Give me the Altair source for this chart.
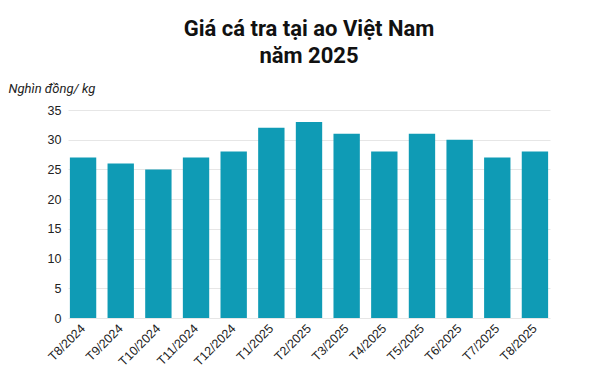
import altair as alt
import pandas as pd

months = ["T8/2024", "T9/2024", "T10/2024", "T11/2024", "T12/2024", "T1/2025", "T2/2025",
          "T3/2025", "T4/2025", "T5/2025", "T6/2025", "T7/2025", "T8/2025"]
prices = [27, 26, 25, 27, 28, 32, 33, 31, 28, 31, 30, 27, 28]
y_ticks = [0, 5, 10, 15, 20, 25, 30, 35]

df = pd.DataFrame({"month": months, "price": prices})

chart = alt.Chart(df).mark_bar(color="#0f9bb5").encode(
    x=alt.X("month:N", sort=months,
            scale=alt.Scale(paddingInner=0.3, paddingOuter=0.05),
            axis=alt.Axis(title=None, labelAngle=-45, labelAlign="right", labelBaseline="middle",
                          labelFont="Liberation Sans", labelFontSize=12.5, labelColor="#222",
                          ticks=False, domain=False, labelPadding=8)),
    y=alt.Y("price:Q", scale=alt.Scale(domain=[0, 35], nice=False),
            axis=alt.Axis(values=y_ticks, title="Nghìn đồng/ kg", titleAngle=0,
                          titleAlign="left", titleBaseline="middle",
                          titleX=-60, titleY=-22, titleFont="Roboto", titleFontStyle="italic",
                          titleFontWeight="normal", titleFontSize=13, titleColor="#222",
                          labelFont="Liberation Sans", labelFontSize=12.5, labelColor="#222",
                          ticks=False, domain=False, labelPadding=7,
                          gridColor="#e6e6e6", gridWidth=1)),
).properties(
    width=482, height=208,
    title=alt.TitleParams(["Giá cá tra tại ao Việt Nam", "năm 2025"], font="Roboto",
                          fontSize=22, fontWeight="bold", color="#111", anchor="middle",
                          offset=14, lineHeight=27),
    autosize=alt.AutoSizeParams(type="none"),
    padding={"left": 60, "top": 102, "right": 32, "bottom": 55},
).configure_view(stroke=None)

chart.save("out.html", embed_options={"renderer": "svg", "actions": False})
